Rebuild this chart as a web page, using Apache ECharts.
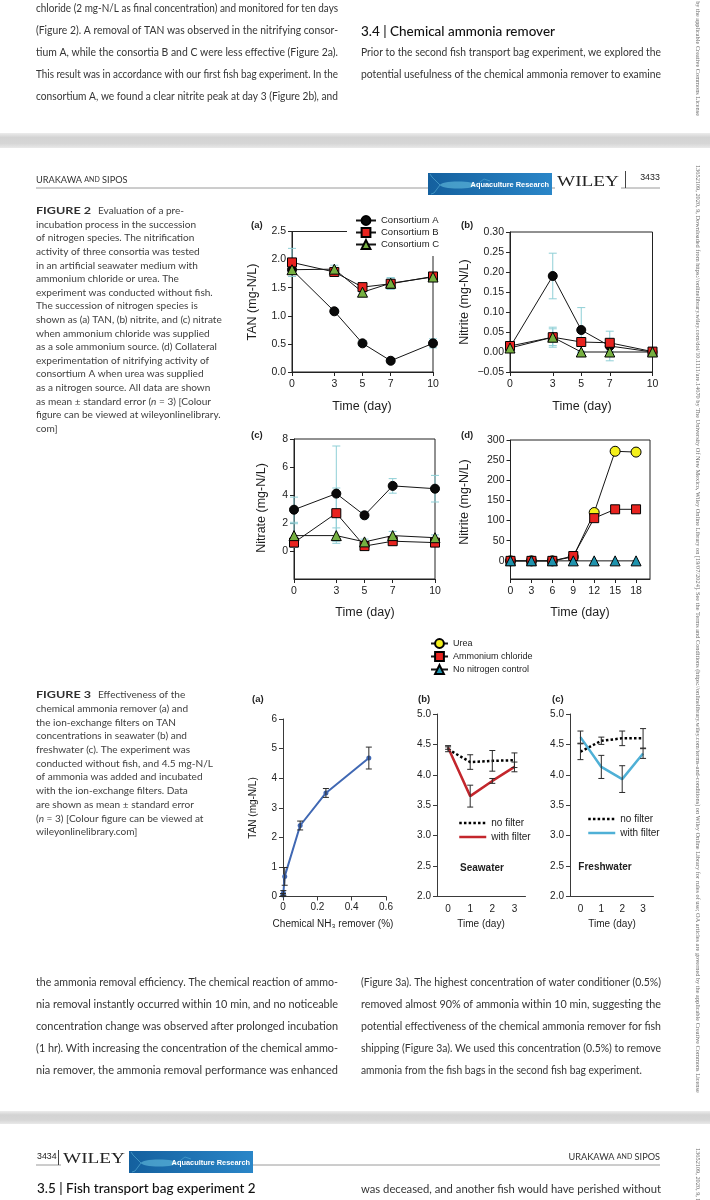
<!DOCTYPE html>
<html><head><meta charset="utf-8"><title>Urakawa and Sipos - Figures 2 and 3</title>
<script src="https://cdn.jsdelivr.net/npm/echarts@6.0.0/dist/echarts.min.js"></script>
<style>html,body{margin:0;padding:0;background:#fff;overflow:hidden}#chart{width:710px;height:1200px}</style>
</head><body><div id="chart"></div>
<script>
// ================= DATA =================
// Figure 2 (a)-(c): sampling days
const days2 = [0, 3, 5, 7, 10];
const dayTicks2 = [0, 3, 5, 7, 10];
// (a) TAN (mg-N/L)
const tanA = [1.82, 1.08, 0.51, 0.20, 0.51];
const tanB = [1.95, 1.78, 1.51, 1.57, 1.70];
const tanC = [1.82, 1.83, 1.42, 1.58, 1.69];
const tanAErr = [0.04, 0.04, 0.05, 0.04, 0.08];
const tanBErr = [0.25, 0.05, 0.05, 0.10, 0.04];
const tanCErr = [0.08, 0.07, 0.05, 0.10, 0.04];
// (b) Nitrite (mg-N/L)
const nitA = [0.012, 0.190, 0.055, 0.015, 0.000];
const nitB = [0.015, 0.037, 0.025, 0.023, 0.001];
const nitC = [0.010, 0.037, 0.000, 0.000, 0.000];
const nitAErr = [0.004, 0.057, 0.056, 0.037, 0.002];
const nitBErr = [0.004, 0.021, 0.004, 0.004, 0.001];
const nitCErr = [0.003, 0.025, 0.002, 0.002, 0.001];
// (c) Nitrate (mg-N/L)
const natA = [2.95, 4.10, 2.55, 4.65, 4.45];
const natB = [0.60, 2.70, 0.35, 0.70, 0.60];
const natC = [1.10, 1.10, 0.65, 1.10, 0.95];
const natAErr = [0.90, 3.40, 0.25, 0.52, 0.95];
const natBErr = [0.30, 1.80, 0.15, 0.20, 0.20];
const natCErr = [0.85, 0.55, 0.20, 0.30, 0.20];
// (d) Nitrite with urea (mg-N/L)
const days2d = [0, 3, 6, 9, 12, 15, 18];
const dayTicks2d = [0, 3, 6, 9, 12, 15, 18];
const ureaNit = [0, 0, 0, 10, 120, 272, 270];
const amclNit = [0, 0, 0, 12, 106, 128, 128];
const noNNit = [0, 0, 0, 0, 0, 0, 0];
// Figure 3 (a) chemical ammonia remover
const removerPct = [0, 0.002, 0.01, 0.1, 0.25, 0.5];
const removerTan = [0.05, 0.12, 0.68, 2.40, 3.50, 4.68];
const removerErr = [0.05, 0.08, 0.30, 0.15, 0.15, 0.37];
// Figure 3 (b),(c)
const days3 = ['0', '1', '2', '3'];
const seaNo = [4.42, 4.21, 4.23, 4.24];
const seaNoErr = [0.04, 0.12, 0.17, 0.12];
const seaWith = [4.45, 3.65, 3.90, 4.13];
const seaWithErr = [0.03, 0.18, 0.04, 0.08];
const freshNo = [4.38, 4.56, 4.60, 4.60];
const freshNoErr = [0.13, 0.06, 0.12, 0.16];
const freshWith = [4.62, 4.13, 3.93, 4.35];
const freshWithErr = [0.10, 0.19, 0.22, 0.08];

// ================= PAGE TEXT =================
const topLeftLines = [
  'chloride (2 mg-N/L as final concentration) and monitored for ten days',
  '(Figure 2). A removal of TAN was observed in the nitrifying consor-',
  'tium A, while the consortia B and C were less effective (Figure 2a).',
  'This result was in accordance with our first fish bag experiment. In the',
  'consortium A, we found a clear nitrite peak at day 3 (Figure 2b), and'
];
const topRightHeading = '3.4 | Chemical ammonia remover';
const topRightLines = [
  'Prior to the second fish transport bag experiment, we explored the',
  'potential usefulness of the chemical ammonia remover to examine'
];
const botLeftLines = [
  'the ammonia removal efficiency. The chemical reaction of ammo-',
  'nia removal instantly occurred within 10 min, and no noticeable',
  'concentration change was observed after prolonged incubation',
  '(1 hr). With increasing the concentration of the chemical ammo-',
  'nia remover, the ammonia removal performance was enhanced'
];
const botRightLines = [
  '(Figure 3a). The highest concentration of water conditioner (0.5%)',
  'removed almost 90% of ammonia within 10 min, suggesting the',
  'potential effectiveness of the chemical ammonia remover for fish',
  'shipping (Figure 3a). We used this concentration (0.5%) to remove',
  'ammonia from the fish bags in the second fish bag experiment.'
];
const nextHeading = '3.5 | Fish transport bag experiment 2';
const nextRightLine = 'was deceased, and another fish would have perished without';
const fig2CapHead = 'FIGURE 2';
const fig2CapLines = [
  'Evaluation of a pre-',
  'incubation process in the succession',
  'of nitrogen species. The nitrification',
  'activity of three consortia was tested',
  'in an artificial seawater medium with',
  'ammonium chloride or urea. The',
  'experiment was conducted without fish.',
  'The succession of nitrogen species is',
  'shown as (a) TAN, (b) nitrite, and (c) nitrate',
  'when ammonium chloride was supplied',
  'as a sole ammonium source. (d) Collateral',
  'experimentation of nitrifying activity of',
  'consortium A when urea was supplied',
  'as a nitrogen source. All data are shown',
  'as mean ± standard error ({i|n} = 3) [Colour',
  'figure can be viewed at wileyonlinelibrary.',
  'com]'
];
const fig3CapHead = 'FIGURE 3';
const fig3CapLines = [
  'Effectiveness of the',
  'chemical ammonia remover (a) and',
  'the ion-exchange filters on TAN',
  'concentrations in seawater (b) and',
  'freshwater (c). The experiment was',
  'conducted without fish, and 4.5 mg-N/L',
  'of ammonia was added and incubated',
  'with the ion-exchange filters. Data',
  'are shown as mean ± standard error',
  '({i|n} = 3) [Colour figure can be viewed at',
  'wileyonlinelibrary.com]'
];
const sideTop = 'by the applicable Creative Commons License';
const sideMid = '13652109, 2020, 9, Downloaded from https://onlinelibrary.wiley.com/doi/10.1111/are.14670 by The University Of New Mexico, Wiley Online Library on [19/07/2024]. See the Terms and Conditions (https://onlinelibrary.wiley.com/terms-and-conditions) on Wiley Online Library for rules of use; OA articles are governed by the applicable Creative Commons License';
const sideBot = '13652109, 2020, 9, Downloaded from https://onlinelibrary.wiley.com/doi/10.1111/are.14670';

// ================= HELPERS =================
const FB = 'Lato, "Open Sans", sans-serif';
const FC = '"Liberation Sans", Arial, sans-serif';
const FS = '"Liberation Serif", "DejaVu Serif", serif';
const BODY = '#353535';
const CAP = '#404040';
const mctx = document.createElement('canvas').getContext('2d');
function tw(t, size, fam, weight) {
  mctx.font = 'normal ' + (weight || 'normal') + ' ' + size + 'px ' + fam;
  return mctx.measureText(t).width;
}
const G = [];
function T(x, y, text, o) {
  o = o || {};
  return {
    type: 'text', x: x, y: y, rotation: o.rot || 0, scaleX: o.sx || 1, silent: true, z: o.z || 10,
    style: {
      text: text, fontSize: o.size || 10, fontFamily: o.fam || FB, fontWeight: o.weight || 'normal',
      fontStyle: o.italic ? 'italic' : 'normal',
      fill: o.color || BODY, align: o.align || 'left', verticalAlign: o.va || 'middle', rich: o.rich
    }
  };
}
function L(x1, y1, x2, y2, color, w, z) {
  return { type: 'line', silent: true, z: z || 5, shape: { x1, y1, x2, y2 }, style: { stroke: color, lineWidth: w || 1 } };
}

// body text: a condensed look (Lato squeezed horizontally to the column width)
const bodySize = 11.8;
function bodyBlock(lines, x0, x1, y0, dy, lastJustify) {
  lines.forEach((ln, i) => {
    const nat = tw(ln, bodySize, FB);
    let sx = (x1 - x0) / nat;
    if (i === lines.length - 1 && !lastJustify) sx = Math.min(sx, 0.87);
    G.push(T(x0, y0 + i * dy, ln, { size: bodySize, sx: sx }));
  });
}
const LINE_DY = 22;
bodyBlock(topLeftLines, 36, 338, 8, LINE_DY, true);
bodyBlock(topRightLines, 361, 661, 52, LINE_DY, true);
bodyBlock(botLeftLines, 36, 338, 982, LINE_DY, true);
bodyBlock(botRightLines, 361, 661, 982, LINE_DY, false);
bodyBlock([nextRightLine], 361, 661, 1189, LINE_DY, true);

const headSize = 14;
const headSx = 194 / tw(topRightHeading, headSize, FB, 500);
G.push(T(361, 31, topRightHeading, { size: headSize, weight: 500, color: '#111', sx: headSx }));
G.push(T(37, 1188, nextHeading, { size: headSize, weight: 500, color: '#111', sx: headSx }));

// captions
const capSize = 10 * 186 / tw('shown as (a) TAN, (b) nitrite, and (c) nitrate', 10, FB);
const capRich = { i: { fontStyle: 'italic', fontSize: capSize, fontFamily: FB, fill: CAP } };
function caption(head, lines, y0, dy) {
  const hw = tw(head, capSize, FB, 'bold');
  G.push(T(36, y0, head, { size: capSize, weight: 'bold', color: '#303030', sx: 55 / hw }));
  lines.forEach((ln, i) => {
    const x = i === 0 ? 98 : 36;
    G.push(T(x, y0 + i * dy, ln, { size: capSize, color: CAP, rich: capRich }));
  });
}
caption(fig2CapHead, fig2CapLines, 211, 13.6);
caption(fig3CapHead, fig3CapLines, 695, 13.7);

// page bands
function band(y, h) {
  G.push({ type: 'rect', silent: true, z: 1, shape: { x: 0, y: y, width: 710, height: h },
    style: { fill: new echarts.graphic.LinearGradient(0, 0, 0, 1, [
      { offset: 0, color: '#ececec' }, { offset: 0.3, color: '#d3d3d3' }, { offset: 0.7, color: '#d6d6d6' }, { offset: 1, color: '#e9e9e9' }]) } });
}
band(133, 15);
band(1111, 13);

// journal logo
function logo(x, y) {
  G.push({ type: 'rect', silent: true, z: 6, shape: { x: x, y: y, width: 124, height: 22 },
    style: { fill: new echarts.graphic.LinearGradient(0, 0, 1, 0, [{ offset: 0, color: '#14609e' }, { offset: 1, color: '#2a86c8' }]) } });
  G.push({ type: 'ellipse', silent: true, z: 7, shape: { cx: x + 30, cy: y + 12, rx: 18, ry: 3.5 }, style: { fill: 'rgba(110,200,230,0.55)' } });
  G.push({ type: 'polyline', silent: true, z: 7, shape: { points: [[x + 12, y + 12], [x + 4, y + 4], [x + 2, y + 1]] }, style: { stroke: 'rgba(110,200,230,0.6)', lineWidth: 0.8, fill: null } });
  G.push({ type: 'polyline', silent: true, z: 7, shape: { points: [[x + 12, y + 12], [x + 6, y + 20], [x + 3, y + 21]] }, style: { stroke: 'rgba(110,200,230,0.6)', lineWidth: 0.8, fill: null } });
  G.push({ type: 'polyline', silent: true, z: 7, shape: { points: [[x + 48, y + 12], [x + 56, y + 6], [x + 62, y + 8]] }, style: { stroke: 'rgba(110,200,230,0.5)', lineWidth: 0.8, fill: null } });
  G.push(T(x + 121, y + 11.5, 'Aquaculture Research', { size: 7.4, weight: 'bold', color: '#ffffff', align: 'right', fam: FC, z: 8 }));
}
const wileySize = 15;
const wileySx = 62 / tw('WILEY', wileySize, FS);
// header of page 3433
G.push(L(36, 188, 430, 188, '#9a9a9a', 1));
G.push(L(552, 188, 660, 188, '#9a9a9a', 1));
G.push(T(36, 180, 'URAKAWA {s|AND} SIPOS', { size: 9.2, color: '#333', rich: { s: { fontSize: 7, fontFamily: FB, fill: '#333' } } }));
logo(428, 173);
G.push({ type: 'rect', silent: true, z: 6, shape: { x: 555, y: 172, width: 66, height: 18 }, style: { fill: '#fff' } });
G.push(T(557, 190, 'WILEY', { fam: FS, size: wileySize, va: 'bottom', color: '#222', z: 7, sx: wileySx }));
G.push(L(625.5, 171, 625.5, 188, '#444', 1));
G.push(T(650, 178, '3433', { size: 8.8, color: '#222', align: 'center', fam: FC }));
// footer / next page header
G.push(L(36, 1165, 660, 1165, '#9a9a9a', 1));
G.push(T(37, 1157, '3434', { size: 8.8, color: '#222', fam: FC }));
G.push(L(58.5, 1150, 58.5, 1165, '#444', 1));
G.push({ type: 'rect', silent: true, z: 6, shape: { x: 61, y: 1149, width: 68, height: 18 }, style: { fill: '#fff' } });
G.push(T(63, 1167, 'WILEY', { fam: FS, size: wileySize, va: 'bottom', color: '#222', z: 7, sx: wileySx }));
logo(129, 1151);
G.push(T(660, 1157, 'URAKAWA {s|AND} SIPOS', { size: 9.2, color: '#333', align: 'right', rich: { s: { fontSize: 7, fontFamily: FB, fill: '#333' } } }));

// right side download strip
const sideSize = 6 * 930 / tw(sideMid, 6, FS);
G.push(T(698, 165, sideMid, { fam: FS, size: sideSize, color: '#6a6a6a', rot: -Math.PI / 2 }));
G.push(T(698, 116, sideTop, { fam: FS, size: sideSize, color: '#6a6a6a', rot: -Math.PI / 2, align: 'right' }));
G.push(T(698, 1148, sideBot, { fam: FS, size: sideSize, color: '#6a6a6a', rot: -Math.PI / 2 }));

// chart text: axis titles & panel labels
const AT = '#1e1e1e';
G.push(T(251, 225, '(a)', { fam: FC, size: 9.5, weight: 'bold', color: AT }));
G.push(T(461, 225, '(b)', { fam: FC, size: 9.5, weight: 'bold', color: AT }));
G.push(T(251, 435, '(c)', { fam: FC, size: 9.5, weight: 'bold', color: AT }));
G.push(T(461, 435, '(d)', { fam: FC, size: 9.5, weight: 'bold', color: AT }));
G.push(T(253, 302, 'TAN (mg-N/L)', { fam: FC, size: 12.5, color: AT, rot: Math.PI / 2, align: 'center' }));
G.push(T(465, 302, 'Nitrite (mg-N/L)', { fam: FC, size: 12.5, color: AT, rot: Math.PI / 2, align: 'center' }));
G.push(T(262, 508, 'Nitrate (mg-N/L)', { fam: FC, size: 12.5, color: AT, rot: Math.PI / 2, align: 'center' }));
G.push(T(465, 502, 'Nitrite (mg-N/L)', { fam: FC, size: 12.5, color: AT, rot: Math.PI / 2, align: 'center' }));
G.push(T(362, 407, 'Time (day)', { fam: FC, size: 12.5, color: AT, align: 'center' }));
G.push(T(582, 407, 'Time (day)', { fam: FC, size: 12.5, color: AT, align: 'center' }));
G.push(T(365, 613, 'Time (day)', { fam: FC, size: 12.5, color: AT, align: 'center' }));
G.push(T(580, 613, 'Time (day)', { fam: FC, size: 12.5, color: AT, align: 'center' }));
G.push(T(252, 699, '(a)', { fam: FC, size: 9.5, weight: 'bold', color: AT }));
G.push(T(418, 699, '(b)', { fam: FC, size: 9.5, weight: 'bold', color: AT }));
G.push(T(552, 699, '(c)', { fam: FC, size: 9.5, weight: 'bold', color: AT }));
G.push(T(253, 808, 'TAN (mg-N/L)', { fam: FC, size: 10, color: AT, rot: Math.PI / 2, align: 'center' }));
G.push(T(333, 924, 'Chemical NH₃ remover (%)', { fam: FC, size: 10, color: AT, align: 'center' }));
G.push(T(481, 924, 'Time (day)', { fam: FC, size: 10, color: AT, align: 'center' }));
G.push(T(612, 924, 'Time (day)', { fam: FC, size: 10, color: AT, align: 'center' }));
G.push(T(482, 868, 'Seawater', { fam: FC, size: 10, weight: 'bold', color: AT, align: 'center' }));
G.push(T(605, 867, 'Freshwater', { fam: FC, size: 10, weight: 'bold', color: AT, align: 'center' }));

// ================= AXES =================
const AXC = '#222';
const lab = { fontSize: 10.5, color: '#222', fontFamily: FC };
function f2x(gi, max, ticks) {
  return { type: 'value', gridIndex: gi, min: 0, max: max,
    axisLine: { show: true, onZero: false, lineStyle: { color: AXC, width: 1 } },
    axisTick: { show: true, length: 4, customValues: ticks, lineStyle: { color: AXC } },
    axisLabel: Object.assign({ customValues: ticks, margin: 7 }, lab),
    splitLine: { show: false } };
}
function f2y(gi, min, max, ticks, fmt) {
  return { type: 'value', gridIndex: gi, min: min, max: max,
    axisLine: { show: true, onZero: false, lineStyle: { color: AXC, width: 1 } },
    axisTick: { show: true, length: 4, customValues: ticks, lineStyle: { color: AXC } },
    axisLabel: Object.assign({ customValues: ticks, margin: 6, formatter: fmt }, lab),
    splitLine: { show: false } };
}
const lab3 = { fontSize: 10, color: '#222', fontFamily: FC };
const AX3 = '#3a3a3a';
const xAxis = [
  f2x(0, 10, dayTicks2), f2x(1, 10, dayTicks2), f2x(2, 10, dayTicks2), f2x(3, 20, dayTicks2d),
  { type: 'value', gridIndex: 4, min: 0, max: 0.6, interval: 0.2,
    axisLine: { onZero: false, lineStyle: { color: AX3 } }, axisTick: { length: 4, lineStyle: { color: AX3 } },
    axisLabel: Object.assign({ margin: 6, formatter: v => v === 0 ? '0' : v.toFixed(1) }, lab3), splitLine: { show: false } },
  { type: 'category', gridIndex: 5, data: days3, boundaryGap: true,
    axisLine: { onZero: false, lineStyle: { color: AX3 } }, axisTick: { inside: true, length: 4, lineStyle: { color: AX3 } },
    axisLabel: Object.assign({ margin: 8 }, lab3) },
  { type: 'category', gridIndex: 6, data: days3, boundaryGap: true,
    axisLine: { onZero: false, lineStyle: { color: AX3 } }, axisTick: { inside: true, length: 4, lineStyle: { color: AX3 } },
    axisLabel: Object.assign({ margin: 8 }, lab3) }
];
const yAxis = [
  f2y(0, 0, 2.5, [0, 0.5, 1, 1.5, 2, 2.5], v => v.toFixed(1)),
  f2y(1, -0.05, 0.30, [-0.05, 0, 0.05, 0.10, 0.15, 0.20, 0.25, 0.30], v => (v < -1e-9 ? '\u2212' : '') + Math.abs(v).toFixed(2)),
  f2y(2, -2, 8, [0, 2, 4, 6, 8], v => String(Math.round(v))),
  f2y(3, -45, 300, [0, 50, 100, 150, 200, 250, 300], v => String(Math.round(v))),
  { type: 'value', gridIndex: 4, min: 0, max: 6, interval: 1,
    axisLine: { show: true, onZero: false, lineStyle: { color: AX3 } }, axisTick: { show: true, length: 4, lineStyle: { color: AX3 } },
    axisLabel: Object.assign({ margin: 6 }, lab3), splitLine: { show: false } },
  { type: 'value', gridIndex: 5, min: 2, max: 5, interval: 0.5,
    axisLine: { show: true, onZero: false, lineStyle: { color: AX3 } }, axisTick: { show: true, length: 4, lineStyle: { color: AX3 } },
    axisLabel: Object.assign({ margin: 6, formatter: v => v.toFixed(1) }, lab3), splitLine: { show: false } },
  { type: 'value', gridIndex: 6, min: 2, max: 5, interval: 0.5,
    axisLine: { show: true, onZero: false, lineStyle: { color: AX3 } }, axisTick: { show: true, length: 4, lineStyle: { color: AX3 } },
    axisLabel: Object.assign({ margin: 6, formatter: v => v.toFixed(1) }, lab3), splitLine: { show: false } }
];
const boxed = { show: true, borderColor: '#222', borderWidth: 1, backgroundColor: 'transparent', outerBoundsMode: 'none' };
const grid = [
  Object.assign({ left: 292, top: 231.5, width: 141, height: 140.5 }, boxed),
  Object.assign({ left: 510, top: 232, width: 142.5, height: 140 }, boxed),
  Object.assign({ left: 294, top: 439, width: 141, height: 140 }, boxed),
  Object.assign({ left: 510.5, top: 440, width: 139.5, height: 139 }, boxed),
  { left: 283, top: 719, width: 103, height: 177.5, outerBoundsMode: 'none' },
  { left: 437, top: 714, width: 88.5, height: 182.5, outerBoundsMode: 'none' },
  { left: 570, top: 714, width: 83.5, height: 182.5, outerBoundsMode: 'none' }
];

// ================= SERIES =================
function errS(gi, xs, ys, es, color, cap, z) {
  return { type: 'custom', xAxisIndex: gi, yAxisIndex: gi, silent: true, z: z || 2,
    data: xs.map((x, i) => [x, ys[i] - es[i], ys[i] + es[i]]),
    encode: { x: 0, y: [1, 2] },
    renderItem: function (params, api) {
      const lo = api.coord([api.value(0), api.value(1)]);
      const hi = api.coord([api.value(0), api.value(2)]);
      const h = cap / 2, st = { stroke: color, lineWidth: 1 };
      return { type: 'group', children: [
        { type: 'line', shape: { x1: lo[0], y1: lo[1], x2: hi[0], y2: hi[1] }, style: st },
        { type: 'line', shape: { x1: lo[0] - h, y1: lo[1], x2: lo[0] + h, y2: lo[1] }, style: st },
        { type: 'line', shape: { x1: hi[0] - h, y1: hi[1], x2: hi[0] + h, y2: hi[1] }, style: st }
      ] };
    } };
}
function mk(name, gi, xs, ys, sym, size, fill) {
  return { type: 'line', name: name, xAxisIndex: gi, yAxisIndex: gi, z: 3,
    data: xs.map((x, i) => [x, ys[i]]), symbol: sym, symbolSize: size, showSymbol: true,
    color: fill, lineStyle: { color: '#151515', width: 1 },
    itemStyle: { color: fill, borderColor: '#000', borderWidth: 1 } };
}
const ERR2 = '#8fcfd6';
const cA = '#0a0a0a', cB = '#e8231f', cC = '#76b041';
const series = [
  errS(0, days2, tanA, tanAErr, ERR2, 8), errS(0, days2, tanB, tanBErr, ERR2, 8), errS(0, days2, tanC, tanCErr, ERR2, 8),
  mk('Consortium A', 0, days2, tanA, 'circle', 9, cA), mk('Consortium B', 0, days2, tanB, 'rect', 9, cB), mk('Consortium C', 0, days2, tanC, 'triangle', 10, cC),
  errS(1, days2, nitA, nitAErr, ERR2, 8), errS(1, days2, nitB, nitBErr, ERR2, 8), errS(1, days2, nitC, nitCErr, ERR2, 8),
  mk('Consortium A', 1, days2, nitA, 'circle', 9, cA), mk('Consortium B', 1, days2, nitB, 'rect', 9, cB), mk('Consortium C', 1, days2, nitC, 'triangle', 10, cC),
  errS(2, days2, natA, natAErr, ERR2, 8), errS(2, days2, natB, natBErr, ERR2, 8), errS(2, days2, natC, natCErr, ERR2, 8),
  mk('Consortium A', 2, days2, natA, 'circle', 9, cA), mk('Consortium B', 2, days2, natB, 'rect', 9, cB), mk('Consortium C', 2, days2, natC, 'triangle', 10, cC),
  mk('Urea', 3, days2d, ureaNit, 'circle', 10, '#f4f01c'), mk('Ammonium chloride', 3, days2d, amclNit, 'rect', 9, cB), mk('No nitrogen control', 3, days2d, noNNit, 'triangle', 10, '#1f93ad'),
  { type: 'line', name: 'remover', xAxisIndex: 4, yAxisIndex: 4, z: 3, data: removerPct.map((x, i) => [x, removerTan[i]]),
    symbol: 'circle', symbolSize: 5, color: '#4068b3', lineStyle: { color: '#4068b3', width: 2 }, itemStyle: { color: '#4068b3' } },
  errS(4, removerPct, removerTan, removerErr, '#2a2a2a', 6, 4),
  { type: 'line', name: 'no filter (b)', xAxisIndex: 5, yAxisIndex: 5, z: 3, data: seaNo, symbol: 'none', color: '#000',
    lineStyle: { color: '#000', width: 2.5, type: [2.5, 2.2] } },
  { type: 'line', name: 'with filter (b)', xAxisIndex: 5, yAxisIndex: 5, z: 3, data: seaWith, symbol: 'none', color: '#c3262c',
    lineStyle: { color: '#c3262c', width: 2.5 } },
  errS(5, [0, 1, 2, 3], seaNo, seaNoErr, '#2a2a2a', 6, 4), errS(5, [0, 1, 2, 3], seaWith, seaWithErr, '#2a2a2a', 6, 4),
  { type: 'line', name: 'no filter (c)', xAxisIndex: 6, yAxisIndex: 6, z: 3, data: freshNo, symbol: 'none', color: '#000',
    lineStyle: { color: '#000', width: 2.5, type: [2.5, 2.2] } },
  { type: 'line', name: 'with filter (c)', xAxisIndex: 6, yAxisIndex: 6, z: 3, data: freshWith, symbol: 'none', color: '#4fb0d6',
    lineStyle: { color: '#4fb0d6', width: 2.5 } },
  errS(6, [0, 1, 2, 3], freshNo, freshNoErr, '#2a2a2a', 6, 4), errS(6, [0, 1, 2, 3], freshWith, freshWithErr, '#2a2a2a', 6, 4)
];

const stripName = n => n.replace(/ \((b|c)\)$/, '');
const hiddenSym = { color: 'rgba(0,0,0,0)', borderWidth: 0, opacity: 0 };
const legend = [
  { data: ['Consortium A', 'Consortium B', 'Consortium C'], orient: 'vertical', left: 347, top: 211,
    padding: [4, 14, 6, 8], itemWidth: 20, itemHeight: 11, itemGap: 1, backgroundColor: '#fff', selectedMode: false, z: 10,
    textStyle: { fontSize: 9.5, color: '#222', fontFamily: FC, lineHeight: 11 } },
  { data: ['Urea', 'Ammonium chloride', 'No nitrogen control'], orient: 'vertical', left: 430, top: 638,
    padding: 0, itemWidth: 17, itemHeight: 11, itemGap: 2, selectedMode: false,
    textStyle: { fontSize: 9, color: '#222', fontFamily: FC, lineHeight: 11 } },
  { data: ['no filter (b)', 'with filter (b)'], orient: 'vertical', left: 458, top: 817, padding: 0,
    itemWidth: 27, itemHeight: 8, itemGap: 2, selectedMode: false, formatter: stripName,
    itemStyle: hiddenSym, lineStyle: { width: 2.5 },
    textStyle: { fontSize: 10, color: '#222', fontFamily: FC, lineHeight: 12 } },
  { data: ['no filter (c)', 'with filter (c)'], orient: 'vertical', left: 587, top: 813, padding: 0,
    itemWidth: 27, itemHeight: 8, itemGap: 2, selectedMode: false, formatter: stripName,
    itemStyle: hiddenSym, lineStyle: { width: 2.5 },
    textStyle: { fontSize: 10, color: '#222', fontFamily: FC, lineHeight: 12 } }
];

const chart = echarts.init(document.getElementById('chart'), null, { renderer: 'canvas', width: 710, height: 1200 });
chart.setOption({
  animation: false,
  backgroundColor: '#ffffff',
  grid: grid, xAxis: xAxis, yAxis: yAxis, series: series, legend: legend,
  tooltip: { show: false },
  graphic: { elements: G }
});
</script></body></html>
